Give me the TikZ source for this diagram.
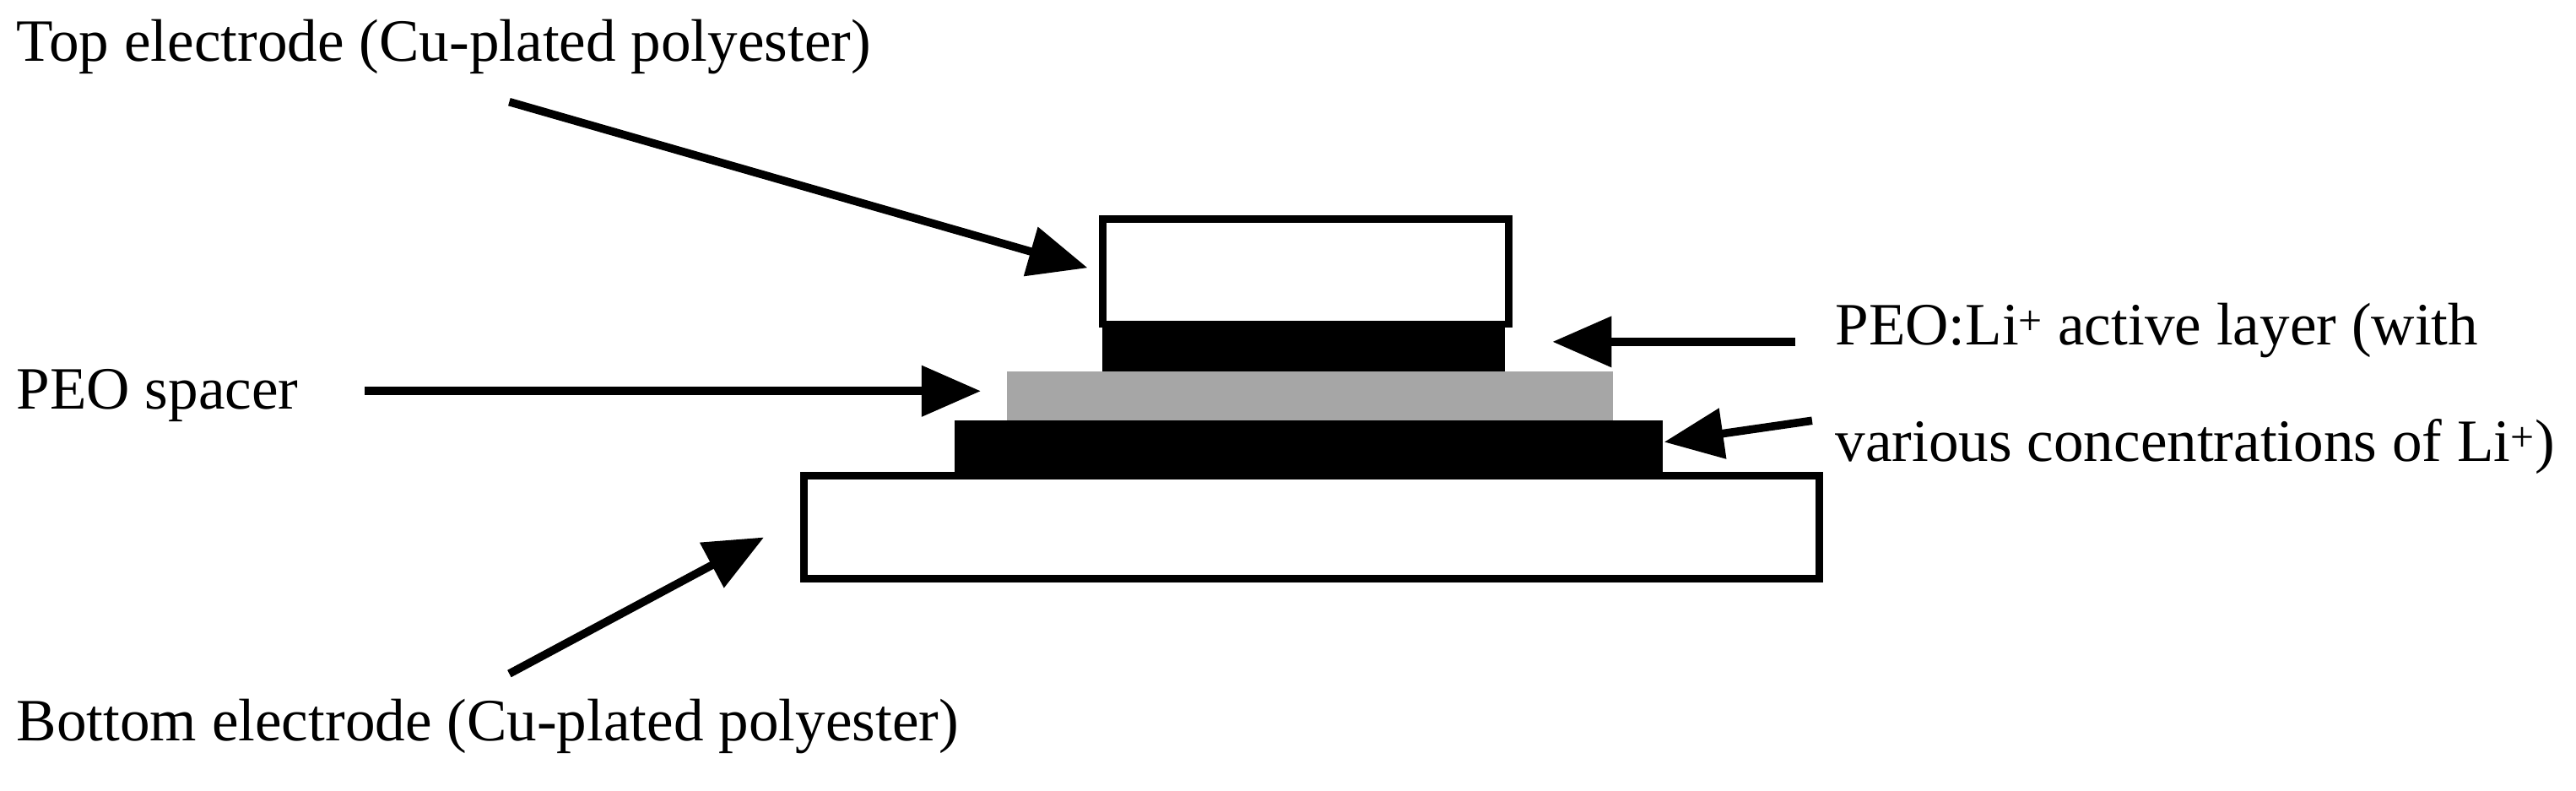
\documentclass[tikz,border=0pt]{standalone}
\usepackage{fontspec}
\setmainfont{Liberation Serif}
\usetikzlibrary{arrows.meta}
\begin{document}
\begin{tikzpicture}[x=0.05cm,y=-0.05cm,
  lbl/.style={anchor=base west,inner sep=0pt,font=\fontsize{52}{60}\selectfont},
  arr/.style={line width=7pt,-{Triangle[length=1.8cm,width=1.5cm]}},
  box/.style={draw,line width=6.5pt,fill=white}]
\useasboundingbox (0,0) rectangle (1568,481);
\node[box,minimum width=12.35cm,minimum height=3.2cm,anchor=north west,inner sep=0pt] (top) at (669,131) {};
\fill (671,195) rectangle (916,226) coordinate (blk1);
\fill[gray!70] (613,226) rectangle (982,256);
\fill (581,256) rectangle (1012,287);
\node[box,minimum width=30.9cm,minimum height=3.15cm,anchor=north west,inner sep=0pt] (bot) at (487,287) {};
\node[lbl] (t1) at (10,37) {Top electrode (Cu-plated polyester)};
\node[lbl] (t2) at (10,249) {PEO spacer};
\node[lbl] (t3) at (1117,210) {PEO:Li\textsuperscript{+} active layer (with};
\node[lbl] (t4) at (1117,281) {various concentrations of Li\textsuperscript{+})};
\node[lbl] (t5) at (10,451) {Bottom electrode (Cu-plated polyester)};
\coordinate (a1s) at (310,62); \coordinate (a1e) at (662,163);
\coordinate (a2s) at (222,238); \coordinate (a2e) at (597,238);
\coordinate (a3s) at (1093,208); \coordinate (a3e) at (945,208);
\coordinate (a4s) at (1103,256); \coordinate (a4e) at (1013,269);
\coordinate (a5s) at (310,410); \coordinate (a5e) at (465,327);
\draw[arr] (a1s) -- (a1e);
\draw[arr] (a2s) -- (a2e);
\draw[arr] (a3s) -- (a3e);
\draw[arr] (a4s) -- (a4e);
\draw[arr] (a5s) -- (a5e);
\end{tikzpicture}
\end{document}
